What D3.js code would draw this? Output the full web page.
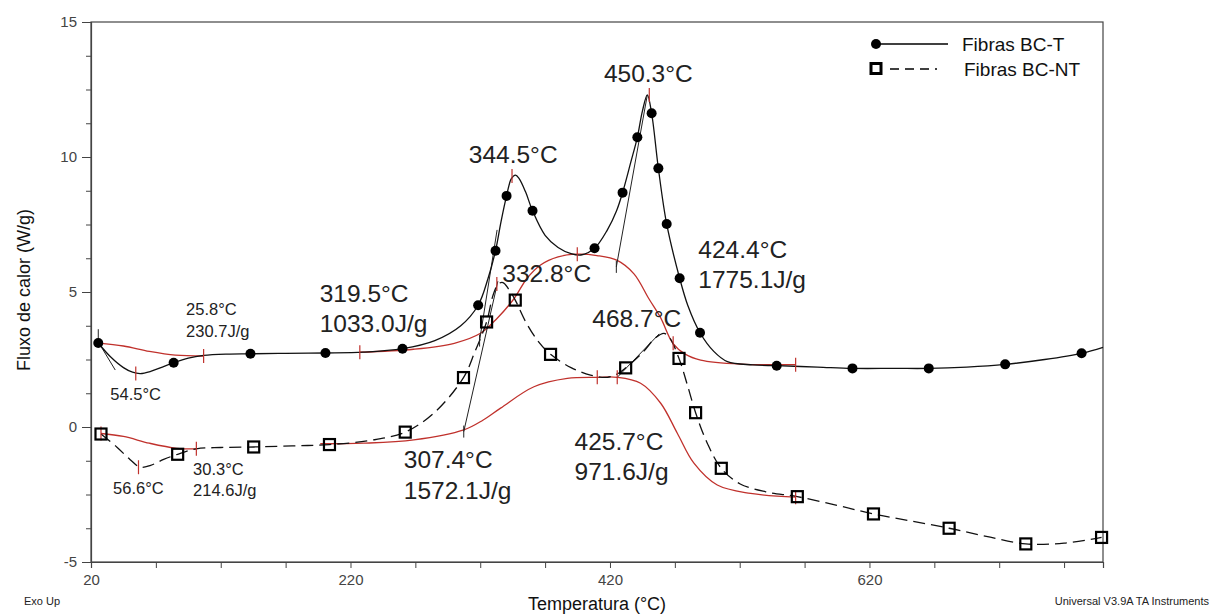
<!DOCTYPE html>
<html><head><meta charset="utf-8">
<script src="https://cdn.jsdelivr.net/npm/d3@7"></script>
<style>
html,body{margin:0;padding:0;background:#fff;}
svg{display:block;font-family:"Liberation Sans",Arial,sans-serif;}
</style></head>
<body>
<svg id="c" width="1211" height="615"></svg>
<script>
// ---- data (Temperature °C, heat flow W/g) ----
const xTicksMajor = [20, 220, 420, 620];
const yTicksMajor = [-5, 0, 5, 10, 15];

const lineBCT = [[25.6,3.11],[35,2.6],[45,2.2],[52,2.03],[58,1.98],[66,2.06],[75,2.22],[83.7,2.38],[95,2.55],[106.8,2.65],[125,2.7],[142.9,2.71],[170,2.73],[200.7,2.74],[230,2.77],[260.1,2.9],[285,3.2],[305,3.75],[318.4,4.51],[326,5.5],[331.8,6.53],[336,7.6],[340.3,8.56],[344,9.2],[347.2,9.33],[350,9.2],[355,8.7],[360.3,8.01],[370,7.1],[380,6.65],[390,6.42],[397.6,6.37],[408.1,6.62],[418,7.3],[425,8.0],[429.7,8.68],[436,9.8],[441.1,10.73],[445,11.7],[448.8,12.3],[452.1,11.62],[457.3,9.58],[463.7,7.52],[473.7,5.51],[480,4.5],[489.4,3.49],[500,2.8],[510.5,2.42],[530,2.3],[548.5,2.27],[580,2.22],[606.9,2.17],[640,2.17],[665.7,2.17],[695,2.22],[724.6,2.32],[755,2.5],[783.5,2.73],[800,2.95]];
const markBCT = [[25.6,3.11],[83.7,2.38],[142.9,2.71],[200.7,2.74],[260.1,2.9],[318.4,4.51],[331.8,6.53],[340.3,8.56],[360.3,8.01],[408.1,6.62],[429.7,8.68],[441.1,10.73],[452.1,11.62],[457.3,9.58],[463.7,7.52],[473.7,5.51],[489.4,3.49],[548.5,2.27],[606.9,2.17],[665.7,2.17],[724.6,2.32],[783.5,2.73]];

const lineBCNT = [[27.7,-0.26],[40,-0.75],[50,-1.2],[58,-1.49],[66,-1.42],[76,-1.2],[86.8,-1.01],[101.2,-0.81],[120,-0.76],[145.4,-0.74],[175,-0.7],[203.8,-0.65],[235,-0.5],[262.2,-0.19],[285,0.55],[307.1,1.83],[316,2.8],[324.9,3.89],[330,4.9],[334,5.3],[337.5,5.35],[342,5.1],[347,4.70],[355,3.9],[365,3.15],[374.2,2.69],[390,2.2],[405,1.92],[418,1.84],[425,1.95],[432.1,2.19],[445,2.75],[455,3.3],[461.6,3.47],[466,3.3],[473.2,2.54],[480,1.5],[486,0.53],[495,-0.6],[505.8,-1.53],[520,-2.1],[540,-2.4],[564.4,-2.58],[595,-2.9],[623.1,-3.22],[652,-3.48],[681.4,-3.75],[710,-4.05],[740.5,-4.33],[770,-4.3],[798.9,-4.09]];
const markBCNT = [[27.7,-0.26],[86.8,-1.01],[145.4,-0.74],[203.8,-0.65],[262.2,-0.19],[307.1,1.83],[324.9,3.89],[347,4.70],[374.2,2.69],[432.1,2.19],[473.2,2.54],[486,0.53],[505.8,-1.53],[564.4,-2.58],[623.1,-3.22],[681.4,-3.75],[740.5,-4.33],[798.9,-4.09]];

// integration baselines (red)
const redT1 = [[25.6,3.11],[45,3.0],[65,2.8],[85,2.66],[106.8,2.63]];
const redT2 = [[227.2,2.77],[268.6,2.88],[300,3.1],[320.2,3.47],[333.1,4.03],[346,4.75],[356,5.5],[366.5,6.0],[380,6.3],[394.8,6.40],[410,6.35],[425.6,6.17],[438.5,5.67],[450,4.75],[459,4.05],[468.5,3.10],[478,2.7],[489.9,2.48],[520.7,2.33],[563.1,2.31]];
const redNT1 = [[27.7,-0.24],[45,-0.35],[65,-0.6],[86,-0.79],[101.2,-0.81]];
const redNT2 = [[196.7,-0.62],[230,-0.6],[268.8,-0.48],[307.3,-0.11],[322,0.25],[335.7,0.7],[361.4,1.49],[387.1,1.80],[410.2,1.84],[425.6,1.84],[443.6,1.62],[459.1,0.88],[471.9,-0.23],[484.7,-1.34],[502.7,-2.15],[528.4,-2.46],[563.1,-2.60]];

// tangent lines (onset construction)
const tangents = [
  [[25,3.2],[38.7,2.11]],
  [[319.5,3.2],[333,7.3]],
  [[424.9,5.93],[448.8,12.3]],
  [[307.3,-0.17],[333.6,5.4]],
  [[425.6,1.84],[458,3.45]]
];
// red "+" marks
const redMarks = [[54.5,1.98],[106.8,2.63],[227.2,2.77],[344.5,9.3],[394.8,6.40],[450.3,12.3],[563.1,2.31],
                  [27.7,-0.24],[56.6,-1.49],[101.2,-0.81],[332.8,5.3],[410.2,1.84],[425.6,1.84],[468.7,3.1],[563.1,-2.6]];
const blackMarks = [[25.6,3.4],[307.3,-0.17],[424.9,5.93],[319.5,3.2]];

// annotations: [T, Y, text, size]
const annotations = [
  [415.3, 12.79, "450.3°C", "big"],
  [311.2, 9.77, "344.5°C", "big"],
  [337.0, 5.38, "332.8°C", "big"],
  [406.4, 3.71, "468.7°C", "big"],
  [488.1, 6.25, "424.4°C", "big"],
  [488.1, 5.14, "1775.1J/g", "big"],
  [196.3, 4.64, "319.5°C", "big"],
  [196.3, 3.51, "1033.0J/g", "big"],
  [261.1, -1.53, "307.4°C", "big"],
  [261.1, -2.68, "1572.1J/g", "big"],
  [392.7, -0.85, "425.7°C", "big"],
  [392.7, -1.96, "971.6J/g", "big"],
  [93.3, 4.15, "25.8°C", "small"],
  [93.3, 3.34, "230.7J/g", "small"],
  [34.9, 1.0, "54.5°C", "small"],
  [37.0, -2.49, "56.6°C", "small"],
  [98.7, -1.78, "30.3°C", "small"],
  [98.7, -2.56, "214.6J/g", "small"]
];
const seriesNames = ["Fibras BC-T", "Fibras BC-NT"];

// ---- drawing ----
const svg = d3.select("#c");
const L = 91, T = 22, W = 1012, H = 540;
const x = d3.scaleLinear().domain([20, 800]).range([L, L + W]);
const y = d3.scaleLinear().domain([-5, 15]).range([T + H, T]);
const red = "#c0312c";

// frame
svg.append("rect").attr("x", L).attr("y", T).attr("width", W).attr("height", H)
  .attr("fill", "none").attr("stroke", "#444").attr("stroke-width", 1.2);

// axes
const xAxis = d3.axisBottom(x).tickValues(d3.range(20, 801, 50)).tickSize(6)
  .tickFormat(d => xTicksMajor.includes(d) ? d : "");
const gx = svg.append("g").attr("transform", `translate(0,${T + H})`).call(xAxis);
gx.select(".domain").attr("stroke", "#444").attr("stroke-width", 1.2);
gx.selectAll(".tick line").attr("stroke", "#444");
gx.selectAll(".tick text").attr("font-size", 15).attr("fill", "#444")
  .attr("font-family", "Liberation Sans, Arial, sans-serif").attr("dy", "0.95em");

const yAxis = d3.axisLeft(y).tickValues(d3.range(-5, 15.01, 1.25)).tickSize(6)
  .tickFormat(d => yTicksMajor.includes(d) ? d : "");
const gy = svg.append("g").attr("transform", `translate(${L},0)`).call(yAxis);
gy.select(".domain").attr("stroke", "#444").attr("stroke-width", 1.2);
gy.selectAll(".tick line").attr("stroke", "#444")
  .attr("x2", d => yTicksMajor.includes(d) ? -9 : -5);
gy.selectAll(".tick text").attr("font-size", 15).attr("fill", "#444")
  .attr("font-family", "Liberation Sans, Arial, sans-serif").attr("x", -14);

// axis titles
svg.append("text").attr("x", 597).attr("y", 610).attr("text-anchor", "middle")
  .attr("font-size", 18).attr("fill", "#111").text("Temperatura (°C)");
svg.append("text").attr("transform", "translate(30,290) rotate(-90)").attr("text-anchor", "middle")
  .attr("font-size", 18).attr("fill", "#111").text("Fluxo de calor (W/g)");
svg.append("text").attr("x", 24).attr("y", 605).attr("font-size", 11).attr("fill", "#222").text("Exo Up");
svg.append("text").attr("x", 1209).attr("y", 605).attr("text-anchor", "end").attr("font-size", 11)
  .attr("fill", "#222").text("Universal V3.9A TA Instruments");

const line = d3.line().x(d => x(d[0])).y(d => y(d[1])).curve(d3.curveCatmullRom.alpha(0.5));
const straight = d3.line().x(d => x(d[0])).y(d => y(d[1]));

// red baselines
[redT1, redT2, redNT1, redNT2].forEach(r => {
  svg.append("path").attr("d", line(r)).attr("fill", "none").attr("stroke", red).attr("stroke-width", 1.3);
});
// tangents
tangents.forEach(t => {
  svg.append("path").attr("d", straight(t)).attr("fill", "none").attr("stroke", "#222").attr("stroke-width", 1);
});

// series lines
svg.append("path").attr("d", line(lineBCT)).attr("fill", "none").attr("stroke", "#111").attr("stroke-width", 1.3);
svg.append("path").attr("d", line(lineBCNT)).attr("fill", "none").attr("stroke", "#111").attr("stroke-width", 1.3)
  .attr("stroke-dasharray", "12,6");

// red + marks
svg.selectAll(".rm").data(redMarks).enter().append("line")
  .attr("x1", d => x(d[0])).attr("x2", d => x(d[0]))
  .attr("y1", d => y(d[1]) - 7).attr("y2", d => y(d[1]) + 7)
  .attr("stroke", red).attr("stroke-width", 1.2);
svg.selectAll(".bm").data(blackMarks).enter().append("line")
  .attr("x1", d => x(d[0])).attr("x2", d => x(d[0]))
  .attr("y1", d => y(d[1]) - 6).attr("y2", d => y(d[1]) + 6)
  .attr("stroke", "#222").attr("stroke-width", 1);

// markers
svg.selectAll(".mc").data(markBCT).enter().append("circle")
  .attr("cx", d => x(d[0])).attr("cy", d => y(d[1])).attr("r", 5).attr("fill", "#000");
svg.selectAll(".ms").data(markBCNT).enter().append("rect")
  .attr("x", d => x(d[0]) - 5.5).attr("y", d => y(d[1]) - 5.5).attr("width", 11).attr("height", 11)
  .attr("fill", "none").attr("stroke", "#000").attr("stroke-width", 2.2);

// annotations
annotations.forEach(a => {
  svg.append("text").attr("x", x(a[0])).attr("y", y(a[1]))
    .attr("font-size", a[3] === "big" ? 24.5 : 16.5).attr("fill", "#222").text(a[2]);
});

// legend
svg.append("circle").attr("cx", 876).attr("cy", 44).attr("r", 5).attr("fill", "#000");
svg.append("line").attr("x1", 880).attr("x2", 948).attr("y1", 44).attr("y2", 44).attr("stroke", "#000").attr("stroke-width", 1.5);
svg.append("text").attr("x", 962).attr("y", 51).attr("font-size", 19).attr("fill", "#111").text(seriesNames[0]);
svg.append("rect").attr("x", 871).attr("y", 63.5).attr("width", 10).attr("height", 10)
  .attr("fill", "none").attr("stroke", "#000").attr("stroke-width", 3);
svg.append("line").attr("x1", 890).attr("x2", 937).attr("y1", 69).attr("y2", 69).attr("stroke", "#000")
  .attr("stroke-width", 1.5).attr("stroke-dasharray", "9,6");
svg.append("text").attr("x", 964).attr("y", 76).attr("font-size", 19).attr("fill", "#111").text(seriesNames[1]);
</script>
</body></html>
